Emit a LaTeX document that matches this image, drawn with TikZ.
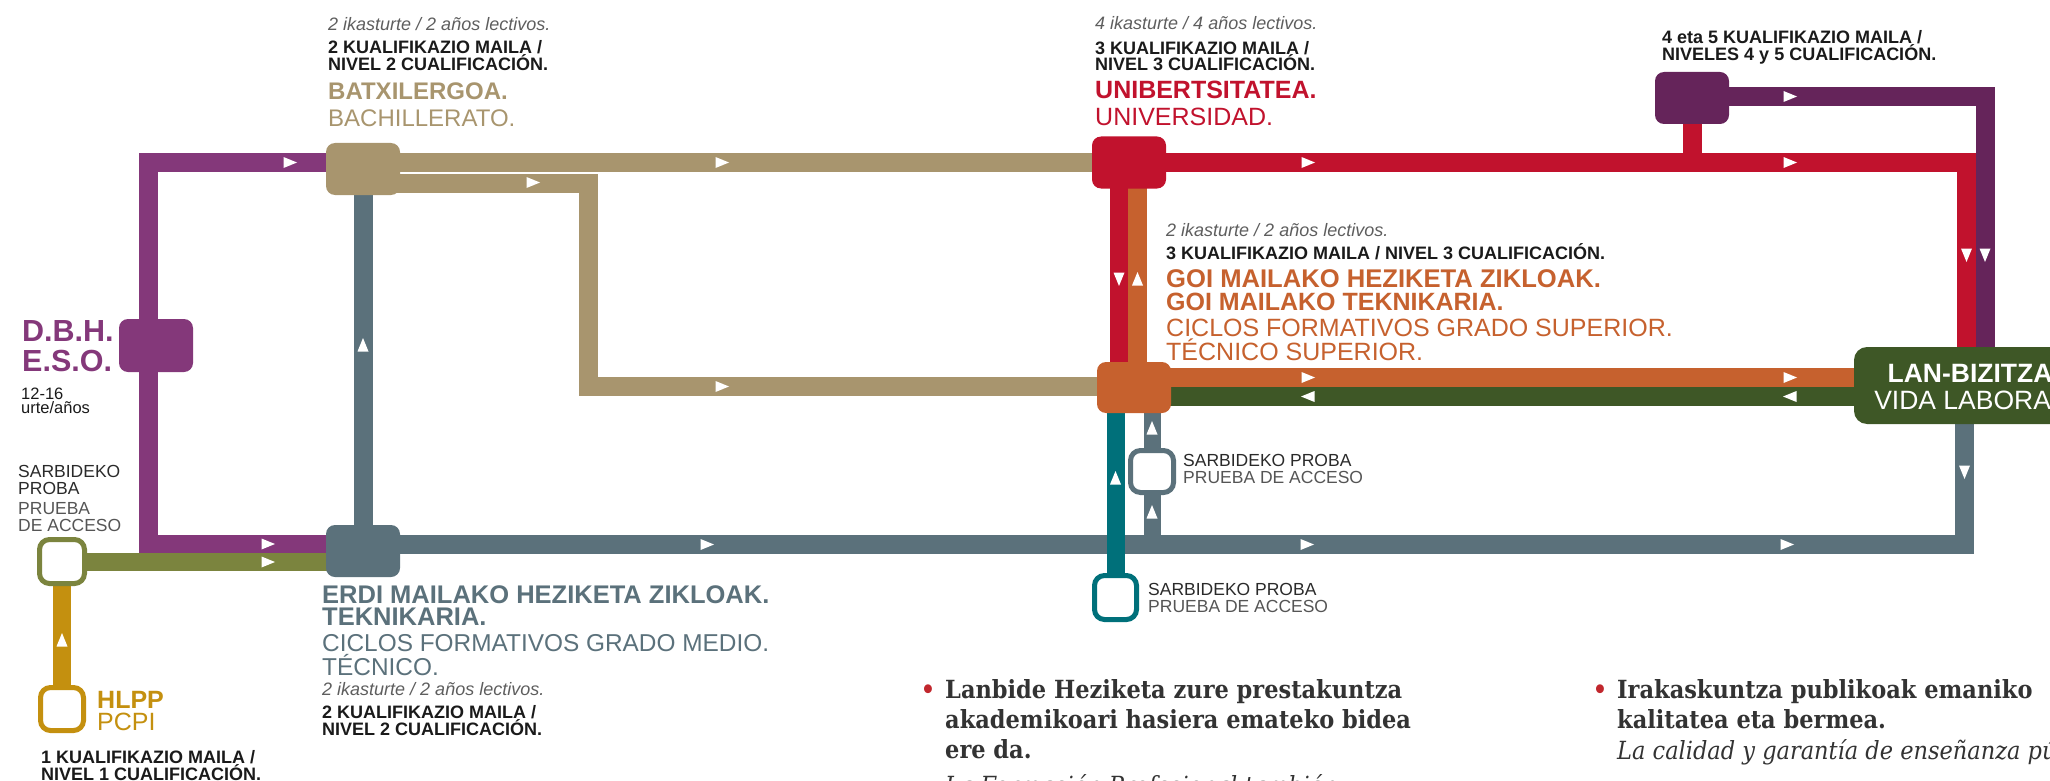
\documentclass[tikz,border=0pt]{standalone}
\usepackage{fontspec}
\setmainfont{Liberation Sans}
\newfontfamily\serfont{DejaVu Serif Condensed}
\definecolor{cDbh}{HTML}{84387A}
\definecolor{cTan}{HTML}{A8956E}
\definecolor{cSlate}{HTML}{5B717B}
\definecolor{cOlive}{HTML}{7B843E}
\definecolor{cGold}{HTML}{C4900F}
\definecolor{cRed}{HTML}{C1122D}
\definecolor{cOrange}{HTML}{C6612E}
\definecolor{cGreen}{HTML}{3E5726}
\definecolor{cDpurple}{HTML}{65245A}
\definecolor{cTeal}{HTML}{00707A}
\definecolor{cItal}{HTML}{5E5E5E}
\definecolor{cInk}{HTML}{1A1A1A}
\definecolor{cDark}{HTML}{2A2A2A}
\definecolor{cSoft}{HTML}{555555}
\definecolor{cBody}{HTML}{333333}
\definecolor{cBullet}{HTML}{C1272D}
\newcommand\myfs[1]{\fontsize{#1}{#1}\selectfont}
\newcommand\tipR[1]{\fill[white] (#1) +(-6.5,-5.5) -- +(7,0) -- +(-6.5,5.5) -- cycle;}
\newcommand\tipL[1]{\fill[white] (#1) +(6.5,-5.5) -- +(-7,0) -- +(6.5,5.5) -- cycle;}
\newcommand\tipU[1]{\fill[white] (#1) +(-5.5,6.5) -- +(0,-7) -- +(5.5,6.5) -- cycle;}
\newcommand\tipD[1]{\fill[white] (#1) +(-5.5,-6.5) -- +(0,7) -- +(5.5,-6.5) -- cycle;}
\pgfdeclarelayer{bg}
\pgfsetlayers{bg,main}
\tikzset{
  ln/.style={line width=19pt, line join=miter},
  stbox/.style={rounded corners=9pt, inner sep=0pt, minimum width=74pt, minimum height=52pt},
  ringbox/.style={draw, line width=5pt, fill=white, rounded corners=10pt, inner sep=0pt},
  lbl/.style={anchor=base west, inner sep=0pt},
  small/.style={lbl, font=\myfs{18}\bfseries, text=cInk},
  ital/.style={lbl, font=\myfs{18}\itshape, text=cItal},
  bigb/.style={lbl, font=\myfs{25}\bfseries},
  bigr/.style={lbl, font=\myfs{25}},
  probaA/.style={lbl, font=\myfs{17.5}, text=cDark},
  probaB/.style={lbl, font=\myfs{17.5}, text=cSoft},
  body/.style={lbl, font=\serfont\bfseries\myfs{25}, text=cBody},
  bodyit/.style={lbl, font=\serfont\itshape\myfs{25}, text=cBody},
  bul/.style={anchor=base, inner sep=0pt, font=\serfont\bfseries\myfs{25}, text=cBullet}
}
\begin{document}
\begin{tikzpicture}[x=1pt,y=-1pt]
\useasboundingbox (0,0) rectangle (2050,781);
\clip (0,0) rectangle (2050,781);
% ---- station boxes
\node[stbox, fill=cTan] (batx) at (363,169) {};
\node[stbox, fill=cSlate] (erdi) at (363,551) {};
\node[stbox, fill=cDbh, minimum height=53pt] (dbh) at (156,345.5) {};
\node[stbox, fill=cRed] (uni) at (1129,162.5) {};
\node[stbox, fill=cOrange, minimum height=51pt] (goi) at (1134,387.5) {};
\node[stbox, fill=cDpurple] (h45) at (1692,98) {};
\node[fill=cGreen, rounded corners=13pt, minimum width=216pt, minimum height=77pt, inner sep=0pt] (lan) at (1962,385.5) {};
\node[ringbox, draw=cOlive, minimum width=45pt, minimum height=44pt] (olv) at (62,561.5) {};
\node[ringbox, draw=cGold, minimum width=43pt, minimum height=43pt] (hlpp) at (62,709) {};
\node[ringbox, draw=cTeal, minimum width=42pt, minimum height=44pt] (tealb) at (1115.5,597.5) {};
\node[ringbox, draw=cSlate, minimum width=43pt, minimum height=42pt] (grb) at (1152,471.5) {};
% ---- connectors
\begin{pgfonlayer}{bg}
\draw[ln, cTan] (batx.center |- 0,162.5) -- (uni.center |- 0,162.5);
\draw[ln, cTan] (batx.center |- 0,183) -- (588.5,183) -- (588.5,386.5) -- (goi.center |- 0,386.5);
\draw[ln, cDbh] (dbh.center -| 148.5,0) -- (148.5,162.5) -- (batx.center |- 0,162.5);
\draw[ln, cDbh] (dbh.center -| 148.5,0) -- (148.5,544) -- (erdi.center |- 0,544);
\draw[ln, cSlate] (erdi.center) -- (batx.center);
\draw[ln, cSlate] (erdi.center |- 0,544.5) -- (1964.5,544.5) -- (lan.center -| 1964.5,0);
\draw[ln, cOlive, line width=18pt] (olv.center) -- (erdi.center |- olv.center);
\draw[cGold, line width=18pt] (hlpp.center) -- (olv.center);
\draw[ln, cRed] (uni.center |- 0,162.5) -- (1966.5,162.5) -- (lan.center -| 1966.5,0);
\draw[ln, cRed] (h45.center) -- (h45.center |- 0,162.5);
\draw[ln, cDpurple] (h45.center |- 0,96.5) -- (1985,96.5) -- (lan.center -| 1985,0);
\draw[ln, cRed, line width=18pt] (uni.center -| 1119,0) -- (goi.center -| 1119,0);
\draw[ln, cOrange] (goi.center -| 1137.5,0) -- (uni.center -| 1137.5,0);
\draw[ln, cOrange] (goi.center |- 0,377.5) -- (lan.center |- 0,377.5);
\draw[ln, cGreen] (lan.center |- 0,396.5) -- (goi.center |- 0,396.5);
\draw[ln, cTeal, line width=18pt] (goi.center -| tealb.center) -- (tealb.center);
\draw[ln, cSlate, line width=17pt] (grb.center |- 0,544.5) -- (grb.center);
\draw[ln, cSlate, line width=17pt] (grb.center) -- (goi.center -| grb.center);
\end{pgfonlayer}
% ---- arrow tips
\tipR{290,162.5} \tipR{722,162.5} \tipR{533,182.5} \tipR{722,386.5}
\tipR{268,544} \tipR{268,562}
\tipR{707,544.5} \tipR{1307,544.5} \tipR{1787,544.5}
\tipR{1308,162.5} \tipR{1790,162.5} \tipR{1790,96.5}
\tipR{1308,377.5} \tipR{1790,377.5}
\tipL{1308,396.5} \tipL{1790,396.5}
\tipU{363,345} \tipU{1137.5,279} \tipU{1115.5,478} \tipU{1152,428} \tipU{1152,512} \tipU{62,640}
\tipD{1119,279} \tipD{1966.5,255} \tipD{1985,255} \tipD{1964.5,472}
% ---- labels: Batxilergoa
\node[ital] (bx1) at (328,30.7) {2 ikasturte / 2 años lectivos.};
\node[small] (bx2) at (328,54) {2 KUALIFIKAZIO MAILA /};
\node[small] (bx3) at (328,70.7) {NIVEL 2 CUALIFICACIÓN.};
\node[lbl, font=\myfs{24}\bfseries, text=cTan] (bx4) at (328,100) {BATXILERGOA.};
\node[lbl, font=\myfs{24}, text=cTan] (bx5) at (328,127) {BACHILLERATO.};
% Unibertsitatea
\node[ital] (un1) at (1095,30) {4 ikasturte / 4 años lectivos.};
\node[small] (un2) at (1095,54.3) {3 KUALIFIKAZIO MAILA /};
\node[small] (un3) at (1095,70.7) {NIVEL 3 CUALIFICACIÓN.};
\node[bigb, text=cRed] (un4) at (1095,99) {UNIBERTSITATEA.};
\node[bigr, text=cRed] (un5) at (1095,126) {UNIVERSIDAD.};
% 4-5
\node[small] (q1) at (1662,44) {4 eta 5 KUALIFIKAZIO MAILA /};
\node[small] (q2) at (1662,61) {NIVELES 4 y 5 CUALIFICACIÓN.};
% Goi mailako
\node[ital] (g1) at (1166,236) {2 ikasturte / 2 años lectivos.};
\node[small] (g2) at (1166,259) {3 KUALIFIKAZIO MAILA / NIVEL 3 CUALIFICACIÓN.};
\node[lbl, font=\myfs{25.6}\bfseries, text=cOrange] (g3) at (1166,287.3) {GOI MAILAKO HEZIKETA ZIKLOAK.};
\node[lbl, font=\myfs{25}\bfseries, text=cOrange] (g4) at (1166,310) {GOI MAILAKO TEKNIKARIA.};
\node[bigr, text=cOrange] (g5) at (1166,336.7) {CICLOS FORMATIVOS GRADO SUPERIOR.};
\node[bigr, text=cOrange] (g6) at (1166,360) {TÉCNICO SUPERIOR.};
% Erdi mailako
\node[lbl, font=\myfs{25.5}\bfseries, text=cSlate] (e1) at (322,603.3) {ERDI MAILAKO HEZIKETA ZIKLOAK.};
\node[lbl, font=\myfs{25.5}\bfseries, text=cSlate] (e2) at (322,625) {TEKNIKARIA.};
\node[lbl, font=\myfs{24.4}, text=cSlate] (e3) at (322,651.7) {CICLOS FORMATIVOS GRADO MEDIO.};
\node[lbl, font=\myfs{24.4}, text=cSlate] (e4) at (322,675) {TÉCNICO.};
\node[ital] (e5) at (322,695) {2 ikasturte / 2 años lectivos.};
\node[small] (e6) at (322,718) {2 KUALIFIKAZIO MAILA /};
\node[small] (e7) at (322,735) {NIVEL 2 CUALIFICACIÓN.};
% HLPP
\node[bigb, text=cGold] (h1) at (97,708.3) {HLPP};
\node[bigr, text=cGold] (h2) at (97,730) {PCPI};
\node[small] (h3) at (41,763.3) {1 KUALIFIKAZIO MAILA /};
\node[small] (h4) at (41,780) {NIVEL 1 CUALIFICACIÓN.};
% DBH
\node[lbl, font=\myfs{30.5}\bfseries, text=cDbh] (d1) at (22,341) {D.B.H.};
\node[lbl, font=\myfs{30.5}\bfseries, text=cDbh] (d2) at (22,371) {E.S.O.};
\node[lbl, font=\myfs{16.5}, text=cInk] (d3) at (21,399.3) {12-16};
\node[lbl, font=\myfs{16.5}, text=cInk] (d4) at (21,413) {urte/años};
% Sarbideko proba labels
\node[probaA] (s1) at (18,477.7) {SARBIDEKO};
\node[probaA] (s2) at (18,494.3) {PROBA};
\node[probaB] (s3) at (18,514.3) {PRUEBA};
\node[probaB] (s4) at (18,531) {DE ACCESO};
\node[probaA] (s5) at (1183,466) {SARBIDEKO PROBA};
\node[probaB] (s6) at (1183,483) {PRUEBA DE ACCESO};
\node[probaA] (s7) at (1148,595) {SARBIDEKO PROBA};
\node[probaB] (s8) at (1148,612) {PRUEBA DE ACCESO};
% Lan-bizitza
\node[anchor=base, inner sep=0pt, font=\myfs{26.5}\bfseries, text=white] (l1) at (1970,382.7) {LAN-BIZITZA};
\node[anchor=base, inner sep=0pt, font=\myfs{26.5}, text=white] (l2) at (1970,409) {VIDA LABORAL};
% bottom text
\node[bul] (b1) at (928,698.3) {•};
\node[body] (p1) at (945,698.3) {Lanbide Heziketa zure prestakuntza};
\node[body] (p2) at (945,728.5) {akademikoari hasiera emateko bidea};
\node[body] (p3) at (945,758.5) {ere da.};
\node[bodyit] (p4) at (945,794) {La Formación Profesional también};
\node[bul] (b2) at (1600,698.3) {•};
\node[body] (r1) at (1617,698.3) {Irakaskuntza publikoak emaniko};
\node[body] (r2) at (1617,728.5) {kalitatea eta bermea.};
\node[bodyit] (r3) at (1617,759) {La calidad y garantía de enseñanza pública.};
\end{tikzpicture}
\end{document}
